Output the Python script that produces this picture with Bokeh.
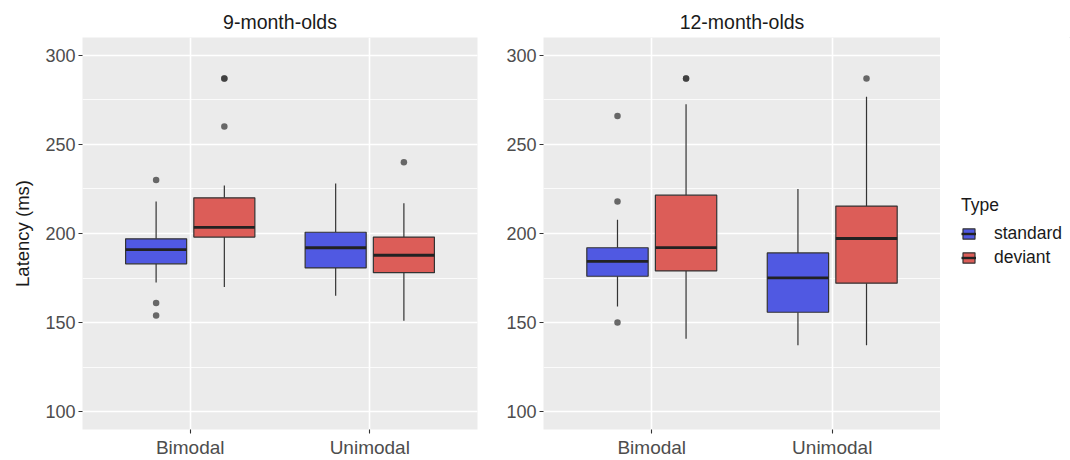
from bokeh.plotting import figure
from bokeh.models import (FactorRange, Range1d, ColumnDataSource, SingleIntervalTicker,
                          Legend, LegendItem)
from bokeh.transform import dodge
from bokeh.layouts import row
from bokeh.embed import file_html
from bokeh.resources import INLINE

# ---------------- data ----------------
conditions = ["Bimodal", "Unimodal"]
panel_titles = ["9-month-olds", "12-month-olds"]
type_labels = ["standard", "deviant"]

# 9-month-olds
m9_std_lower = [172.5, 165.0]
m9_std_q1 = [183.0, 180.7]
m9_std_median = [191.0, 192.0]
m9_std_q3 = [197.0, 200.7]
m9_std_upper = [218.0, 228.0]
m9_dev_lower = [170.0, 151.0]
m9_dev_q1 = [198.0, 178.0]
m9_dev_median = [203.4, 187.8]
m9_dev_q3 = [220.0, 198.0]
m9_dev_upper = [227.0, 217.0]
m9_std_out_cond = ["Bimodal", "Bimodal", "Bimodal"]
m9_std_out_val = [230.0, 161.0, 154.0]
m9_dev_out_cond = ["Bimodal", "Bimodal", "Bimodal", "Unimodal"]
m9_dev_out_val = [287.0, 287.0, 260.0, 240.0]

# 12-month-olds
m12_std_lower = [159.0, 137.3]
m12_std_q1 = [176.0, 155.8]
m12_std_median = [184.3, 175.1]
m12_std_q3 = [192.0, 189.1]
m12_std_upper = [207.7, 225.0]
m12_dev_lower = [141.0, 137.3]
m12_dev_q1 = [179.0, 172.1]
m12_dev_median = [192.1, 197.2]
m12_dev_q3 = [221.5, 215.4]
m12_dev_upper = [272.6, 276.7]
m12_std_out_cond = ["Bimodal", "Bimodal", "Bimodal"]
m12_std_out_val = [266.0, 218.0, 150.0]
m12_dev_out_cond = ["Bimodal", "Bimodal", "Unimodal"]
m12_dev_out_val = [287.0, 287.0, 287.0]

# ---------------- style ----------------
FONT = "Liberation Sans"
COLORS = {"standard": "#5059E2", "deviant": "#DC5D58"}
OFFSETS = {"standard": -0.19, "deviant": 0.19}
BOX_W = 0.34
PANEL_BG = "#EBEBEB"


def make_panel(title, stats, outliers, width, left_border, right_border, ylabel):
    p = figure(width=width, height=460, x_range=FactorRange(*conditions, range_padding=0.1),
               y_range=Range1d(90, 310), output_backend="svg", toolbar_location=None,
               min_border_left=left_border, min_border_right=right_border,
               min_border_top=37, min_border_bottom=30)
    p.background_fill_color = PANEL_BG
    p.border_fill_color = "white"
    p.outline_line_color = None

    ticker = SingleIntervalTicker(interval=50, num_minor_ticks=2)
    p.yaxis.ticker = ticker
    p.ygrid.ticker = ticker
    p.ygrid.grid_line_color = "white"
    p.ygrid.grid_line_width = 1.6
    p.ygrid.minor_grid_line_color = "white"
    p.ygrid.minor_grid_line_width = 0.8
    p.xgrid.grid_line_color = "white"
    p.xgrid.grid_line_width = 1.6

    for ax in (p.xaxis[0], p.yaxis[0]):
        ax.axis_line_color = None
        ax.major_tick_line_color = "#333333"
        ax.major_tick_line_width = 1.1
        ax.major_tick_out = 4
        ax.major_tick_in = 0
        ax.minor_tick_line_color = None
        ax.major_label_text_font = FONT
        ax.major_label_text_color = "#4D4D4D"
        ax.major_label_standoff = 3
    p.xaxis.major_label_text_font_size = "19px"
    p.yaxis.major_label_text_font_size = "18px"
    if ylabel:
        p.yaxis.axis_label = ylabel
        p.yaxis.axis_label_text_font = FONT
        p.yaxis.axis_label_text_font_size = "18.5px"
        p.yaxis.axis_label_text_font_style = "normal"
        p.yaxis.axis_label_text_color = "#1A1A1A"
        p.yaxis.axis_label_standoff = 9

    p.title.text = title
    p.title.align = "center"
    p.title.text_font = FONT
    p.title.text_font_size = "19.5px"
    p.title.text_font_style = "normal"
    p.title.text_color = "#1A1A1A"
    p.title.standoff = 9

    for t in type_labels:
        s = stats[t]
        src = ColumnDataSource(dict(cond=conditions, lower=s[0], q1=s[1], med=s[2], q3=s[3], upper=s[4]))
        xc = dodge("cond", OFFSETS[t], range=p.x_range)
        xl = dodge("cond", OFFSETS[t] - BOX_W / 2, range=p.x_range)
        xr = dodge("cond", OFFSETS[t] + BOX_W / 2, range=p.x_range)
        p.segment(x0=xc, x1=xc, y0="upper", y1="q3", source=src, line_color="#333333", line_width=1.2)
        p.segment(x0=xc, x1=xc, y0="q1", y1="lower", source=src, line_color="#333333", line_width=1.2)
        p.vbar(x=xc, width=BOX_W, top="q3", bottom="q1", source=src,
               fill_color=COLORS[t], line_color="#333333", line_width=1.2)
        p.segment(x0=xl, x1=xr, y0="med", y1="med", source=src,
                  line_color="#222222", line_width=2.8)
        oc, ov = outliers[t]
        osrc = ColumnDataSource(dict(cond=oc, val=ov))
        p.scatter(x=xc, y="val", source=osrc, size=6.5, fill_color="#333333",
                  line_color=None, fill_alpha=0.72)
    return p


stats9 = {"standard": (m9_std_lower, m9_std_q1, m9_std_median, m9_std_q3, m9_std_upper),
          "deviant": (m9_dev_lower, m9_dev_q1, m9_dev_median, m9_dev_q3, m9_dev_upper)}
out9 = {"standard": (m9_std_out_cond, m9_std_out_val), "deviant": (m9_dev_out_cond, m9_dev_out_val)}
stats12 = {"standard": (m12_std_lower, m12_std_q1, m12_std_median, m12_std_q3, m12_std_upper),
           "deviant": (m12_dev_lower, m12_dev_q1, m12_dev_median, m12_dev_q3, m12_dev_upper)}
out12 = {"standard": (m12_std_out_cond, m12_std_out_val), "deviant": (m12_dev_out_cond, m12_dev_out_val)}

p1 = make_panel(panel_titles[0], stats9, out9, 480, 82, 3, "Latency (ms)")
p2 = make_panel(panel_titles[1], stats12, out12, 460, 63, 0, None)

# ---------------- legend panel ----------------
p3 = figure(width=130, height=460, x_axis_type=None, y_axis_type=None,
            x_range=Range1d(0, 1), y_range=Range1d(0, 1),
            output_backend="svg", toolbar_location=None,
            min_border_left=0, min_border_right=0, min_border_top=0, min_border_bottom=0)
p3.outline_line_color = None
p3.background_fill_color = "white"
p3.grid.visible = False

items = []
for t in type_labels:
    # one key sample kept outside the visible range: only the legend key shows it
    key_src = ColumnDataSource(dict(x=[5.0], y=[5.0], top=[5.5], bottom=[4.5]))
    b = p3.vbar(x="x", width=0.1, top="top", bottom="bottom", source=key_src,
                fill_color=COLORS[t], line_color="#333333", line_width=1.2)
    m = p3.segment(x0="x", x1="x", y0="y", y1="y", source=key_src,
                   line_color="#222222", line_width=2.4)
    items.append(LegendItem(label=t, renderers=[b, m]))

legend = Legend(items=items, title="Type", location=(21, 161))
legend.title_text_font = FONT
legend.title_text_font_size = "17.5px"
legend.title_text_font_style = "normal"
legend.title_text_color = "#1A1A1A"
legend.title_standoff = 7
legend.label_text_font = FONT
legend.label_text_font_size = "17.5px"
legend.label_text_color = "#1A1A1A"
legend.glyph_width = 15
legend.glyph_height = 13
legend.label_standoff = 18
legend.label_height = 21
legend.spacing = 3
legend.padding = 5
legend.margin = 0
legend.border_line_color = None
legend.background_fill_alpha = 0
p3.add_layout(legend)

layout = row(p1, p2, p3)
open("out.html", "w").write(file_html(layout, INLINE))
